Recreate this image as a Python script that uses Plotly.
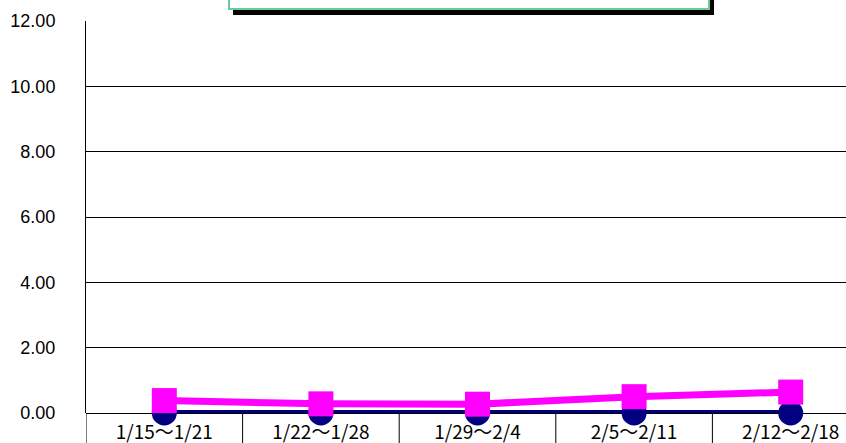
import plotly.graph_objects as go

categories = ["1/15～1/21", "1/22～1/28", "1/29～2/4", "2/5～2/11", "2/12～2/18"]
series_navy = [0.0, 0.0, 0.0, 0.0, 0.0]
series_magenta = [0.38, 0.28, 0.27, 0.50, 0.64]
y_ticks = [0, 2, 4, 6, 8, 10, 12]

W, H = 846, 443
L, R, T, B = 86, 0, 21, 30
pw, ph = W - L - R, H - T - B
cat_w = 156.6
xs = list(range(len(categories)))
x_max = -0.5 + pw / cat_w

fig = go.Figure()
fig.add_trace(go.Scatter(
    x=xs, y=series_navy, mode="lines+markers",
    line=dict(color="#000080", width=6),
    marker=dict(symbol="circle", size=25, color="#000080"),
    cliponaxis=False, showlegend=False))
fig.add_trace(go.Scatter(
    x=xs, y=series_magenta, mode="lines+markers",
    line=dict(color="#FF00FF", width=7),
    marker=dict(symbol="square", size=25, color="#FF00FF"),
    cliponaxis=False, showlegend=False))

shapes = []
for b in [-0.5, 0.5, 1.5, 2.5, 3.5]:
    shapes.append(dict(type="line", xref="x", yref="paper", x0=b, x1=b,
                       y0=0, y1=-B / ph, line=dict(color="black", width=1), layer="below"))

def px_x(p):
    return (p - L) / pw

def px_y(p):
    return 1 + (T - p) / ph

shapes.append(dict(type="rect", xref="paper", yref="paper",
                   x0=px_x(233), x1=px_x(714), y0=px_y(15), y1=px_y(-20),
                   fillcolor="black", line=dict(width=0), layer="above"))
shapes.append(dict(type="rect", xref="paper", yref="paper",
                   x0=px_x(229), x1=px_x(709), y0=px_y(9), y1=px_y(-20),
                   fillcolor="white", line=dict(color="#66CC99", width=2), layer="above"))

fig.update_layout(
    width=W, height=H,
    margin=dict(l=L, r=R, t=T, b=B, pad=0, autoexpand=False),
    paper_bgcolor="white", plot_bgcolor="white",
    shapes=shapes,
    xaxis=dict(range=[-0.5, x_max], tickvals=xs, ticktext=categories,
               showgrid=False, zeroline=False, showline=False, ticks="",
               automargin=False, ticklabelstandoff=6,
               tickfont=dict(family="'Noto Sans CJK JP', 'Noto Sans', sans-serif",
                             size=19, color="black"),
               fixedrange=True),
    yaxis=dict(range=[0, 12], tickvals=y_ticks, tickformat=".2f",
               showgrid=True, gridcolor="black", gridwidth=1,
               zeroline=True, zerolinecolor="black", zerolinewidth=1,
               showline=True, linecolor="black", linewidth=1,
               ticks="", ticklabelstandoff=26, automargin=False,
               tickfont=dict(family="'Liberation Sans', Arial, sans-serif", size=18, color="black"),
               fixedrange=True),
)

fig.write_html("out.html", config={"displayModeBar": False},
               post_script="document.body.style.margin='0';document.body.style.overflow='hidden';")
